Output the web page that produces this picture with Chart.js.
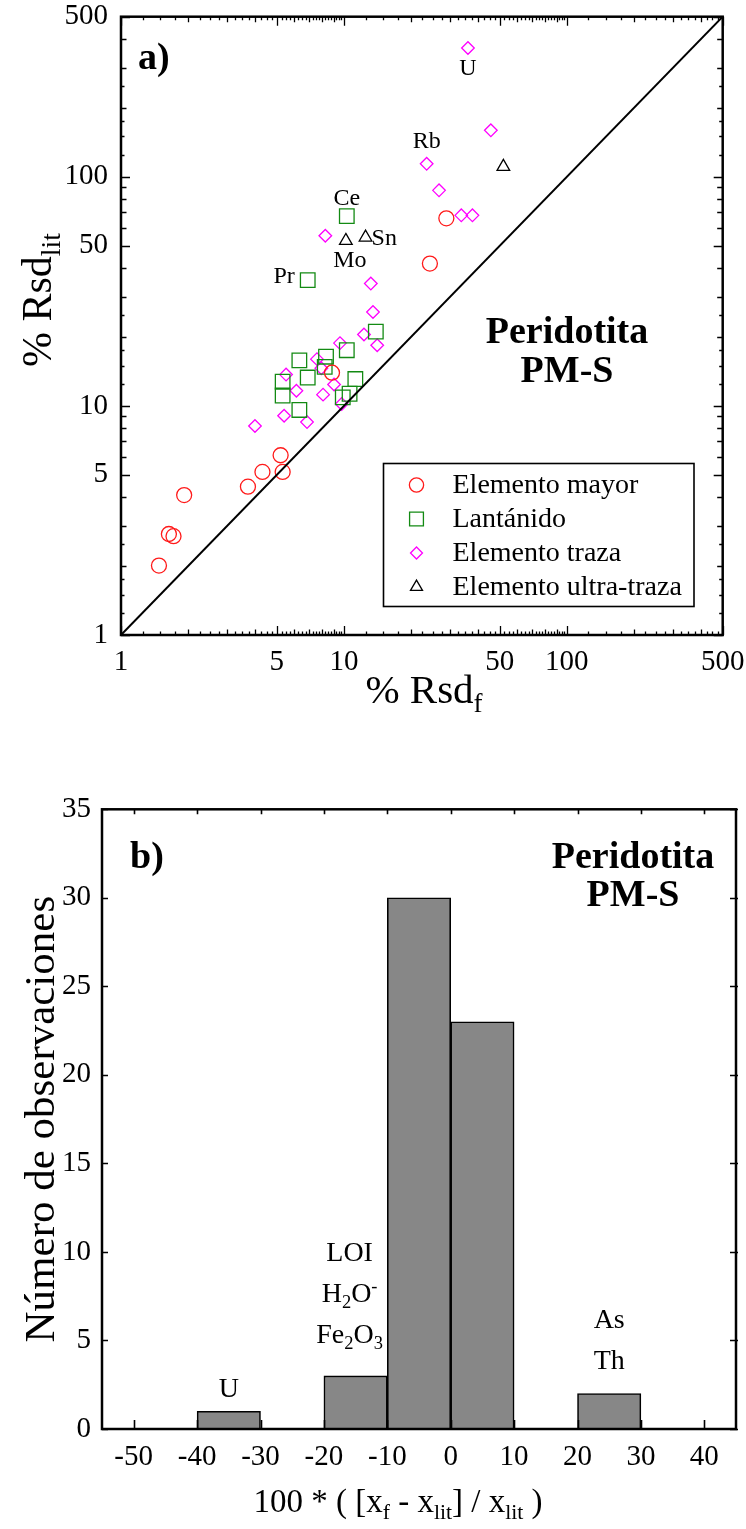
<!DOCTYPE html>
<html lang="es">
<head>
<meta charset="UTF-8">
<title>Peridotita PM-S</title>
<script src="https://cdn.jsdelivr.net/npm/chart.js"></script>
<style>
  html, body { margin: 0; padding: 0; background: #fff; }
  #wrap { position: relative; width: 746px; height: 1529px; }
  #wrap canvas { position: absolute; left: 0; }
</style>
</head>
<body>
<div id="wrap">
  <canvas id="rsdChart" width="746" height="760" style="top:0"></canvas>
  <canvas id="histChart" width="746" height="769" style="top:760px"></canvas>
</div>
<script>
// ---- a) % Rsd of the fit against % Rsd of the literature values ----
const mayorRsdF   = [1.48, 1.64, 1.72, 1.92, 3.71, 4.31, 5.31, 5.2, 8.84, 24.3, 28.8];
const mayorRsdLit = [2.01, 2.76, 2.70, 4.08, 4.44, 5.15, 5.15, 6.09, 13.96, 41.8, 65.9];

const lantRsdF   = [10.3, 6.88, 13.9, 10.3, 8.31, 6.31, 8.2, 6.88, 11.25, 5.31, 5.31, 10.6, 9.88, 6.31];
const lantRsdLit = [67.4, 35.4, 21.1, 17.5, 16.4, 15.8, 14.8, 13.3, 13.1, 12.75, 11.1, 11.3, 10.9, 9.6];

const trazaRsdF   = [8.25, 13.2, 13.5, 36.0, 45.6, 23.5, 26.7, 33.6, 37.7, 12.3, 14.1, 9.6, 7.57, 7.92, 5.5, 9.03, 6.12, 8.06, 9.77, 5.39, 6.83, 3.99];
const trazaRsdLit = [55.3, 34.2, 25.7, 365, 159.6, 114, 87.3, 67.9, 67.9, 20.5, 18.4, 18.8, 16.0, 14.6, 13.7, 12.4, 11.65, 11.2, 10.2, 9.06, 8.5, 8.17];

const ultraRsdF   = [10.2, 12.5, 51.9];
const ultraRsdLit = [52.6, 54.4, 110.7];

// named elements
const elemNames  = ['Ce', 'Pr', 'Mo', 'Sn', 'Rb', 'U'];
const elemRsdF   = [10.3, 6.88, 10.2, 12.5, 23.5, 36.0];
const elemRsdLit = [67.4, 35.4, 52.6, 54.4, 114, 365];

const rsdTicks = [1, 5, 10, 50, 100, 500];
const oneToOne = [1, 500];

// ---- b) histogram of relative differences ----
const binLo  = [-40, -20, -10, 0, 20];
const binHi  = [-30, -10, 0, 10, 30];
const counts = [1, 3, 30, 23, 2];
const diffTicks  = [-50, -40, -30, -20, -10, 0, 10, 20, 30, 40];
const countTicks = [0, 5, 10, 15, 20, 25, 30, 35];

// notes written over some bins: [bin index, lines (bottom line last)]
const binNotes = [
  [0, [[['U']]]],
  [1, [[['LOI']], [['H'], ['2', 'sub'], ['O'], ['-', 'sup']], [['Fe'], ['2', 'sub'], ['O'], ['3', 'sub']]]],
  [4, [[['As']], [['Th']]]]
];

const serif = '"Liberation Serif", "Times New Roman", serif';

function pairs(xs, ys) { return xs.map((v, i) => ({ x: v, y: ys[i] })); }

// text with sub/superscript parts: [[text, 'sub'|'sup'|undefined], ...]
function drawRich(ctx, parts, x, y, size, align, weight) {
  weight = weight || 'normal';
  const segs = parts.map(([t, m]) => {
    const s = m ? size * 0.66 : size;
    ctx.font = weight + ' ' + s + 'px ' + serif;
    return { t, m, s, w: ctx.measureText(t).width };
  });
  const total = segs.reduce((a, p) => a + p.w, 0);
  let cx = align === 'center' ? x - total / 2 : align === 'right' ? x - total : x;
  ctx.textAlign = 'left';
  segs.forEach(p => {
    ctx.font = weight + ' ' + p.s + 'px ' + serif;
    const dy = p.m === 'sub' ? size * 0.22 : p.m === 'sup' ? -size * 0.36 : 0;
    ctx.fillText(p.t, cx, y + dy);
    cx += p.w;
  });
}

function decadeOf(v) { return Math.pow(10, Math.floor(Math.log10(v) + 1e-9)); }

// minor tick values for the log axes
function logMinor(steps, max) {
  const out = [];
  [1, 10, 100].forEach(d => steps.forEach(s => { const v = d * s; if (v <= max + 1e-9) out.push(v); }));
  return out;
}
const xMinor = logMinor([1, 1.25, 1.5, 1.75, 2, 2.25, 2.5, 2.75, 3, 3.25, 3.5, 3.75, 4, 4.25, 4.5, 4.75, 5,
  5.25, 5.5, 5.75, 6, 6.25, 6.5, 6.75, 7, 7.25, 7.5, 7.75, 8, 8.25, 8.5, 8.75, 9, 9.25, 9.5, 9.75], 500);
const yMinor = logMinor([1, 1.25, 1.5, 1.75, 2, 2.5, 3, 4, 5, 6, 7, 8, 9], 500);

function logTickLen(v) {
  if (rsdTicks.some(t => Math.abs(t - v) < 1e-9)) return 9;
  const r = v / decadeOf(v);
  return Math.abs(r - Math.round(r)) < 1e-9 ? 5.5 : 3.5;
}

// keep the plot frame where the layout padding puts it, whatever the label sizes
function fixedBox(size) {
  return s => {
    if (s.isHorizontal()) { s.height = size; s.paddingLeft = 0; s.paddingRight = 0; }
    else { s.width = size; s.paddingTop = 0; s.paddingBottom = 0; }
  };
}

const seriesStyle = [
  { label: 'Elemento mayor', color: '#ff1a1a', pointStyle: 'circle', radius: 7.5 },
  { label: 'Lantánido', color: '#138a13', pointStyle: 'rect', radius: 10.3 },
  { label: 'Elemento traza', color: '#ff00ff', pointStyle: 'rectRot', radius: 6.3 },
  { label: 'Elemento ultra-traza', color: '#000000', pointStyle: 'triangle', radius: 7.3 }
];
const seriesData = [
  pairs(mayorRsdF, mayorRsdLit),
  pairs(lantRsdF, lantRsdLit),
  pairs(trazaRsdF, trazaRsdLit),
  pairs(ultraRsdF, ultraRsdLit)
];

const labelPlace = {
  Ce: { dx: 0, dy: -11, align: 'center' },
  Pr: { dx: -13, dy: 3, align: 'right' },
  Mo: { dx: 4, dy: 26, align: 'center' },
  Sn: { dx: 6, dy: 8, align: 'left' },
  Rb: { dx: 0, dy: -16, align: 'center' },
  U:  { dx: 0, dy: 27, align: 'center' }
};

const tickFont = { family: serif, size: 29 };

const rsdDecor = {
  id: 'rsdDecor',
  afterDraw(chart) {
    const { ctx, chartArea: a } = chart;
    const xs = chart.scales.x, ys = chart.scales.y;
    ctx.save();
    ctx.strokeStyle = '#000';
    ctx.lineWidth = 1.3;
    ctx.beginPath();
    xMinor.forEach(v => {
      const px = Math.round(xs.getPixelForValue(v)) + 0.5, len = logTickLen(v);
      ctx.moveTo(px, a.bottom); ctx.lineTo(px, a.bottom - len);
      ctx.moveTo(px, a.top); ctx.lineTo(px, a.top + len);
    });
    yMinor.forEach(v => {
      const py = Math.round(ys.getPixelForValue(v)) + 0.5, len = logTickLen(v);
      ctx.moveTo(a.left, py); ctx.lineTo(a.left + len, py);
      ctx.moveTo(a.right, py); ctx.lineTo(a.right - len, py);
    });
    ctx.stroke();
    ctx.lineWidth = 2.5;
    ctx.strokeRect(a.left, a.top, a.width, a.height);

    ctx.fillStyle = '#000';
    ctx.textBaseline = 'alphabetic';
    // panel tag and sample name
    drawRich(ctx, [['a)']], 138, 69, 38, 'left', 'bold');
    drawRich(ctx, [['Peridotita']], 567, 343, 38, 'center', 'bold');
    drawRich(ctx, [['PM-S']], 567, 382, 38, 'center', 'bold');

    // element names next to their points
    elemNames.forEach((n, i) => {
      const p = labelPlace[n];
      const px = xs.getPixelForValue(elemRsdF[i]) + p.dx;
      const py = ys.getPixelForValue(elemRsdLit[i]) + p.dy;
      drawRich(ctx, [[n]], px, py, 24, p.align);
    });

    // axis titles
    drawRich(ctx, [['% Rsd'], ['f', 'sub']], 424, 703, 41, 'center');
    ctx.save();
    ctx.translate(51, 300);
    ctx.rotate(-Math.PI / 2);
    drawRich(ctx, [['% Rsd'], ['lit', 'sub']], 0, 0, 42, 'center');
    ctx.restore();

    // legend box
    const lx = 383.5, ly = 463.5, lw = 310.5, lh = 143;
    ctx.lineWidth = 1.6;
    ctx.strokeRect(lx, ly, lw, lh);
    chart.data.datasets.filter(ds => ds.inLegend).forEach((ds, i) => {
      const ry = ly + 21.5 + i * 34;
      ctx.save();
      ctx.strokeStyle = ds.borderColor;
      ctx.fillStyle = 'rgba(0,0,0,0)';
      ctx.lineWidth = 1.3;
      Chart.helpers.drawPoint(ctx, { pointStyle: ds.pointStyle, radius: ds.pointRadius * 0.95, borderWidth: 1.3, rotation: 0 }, lx + 33, ry);
      ctx.restore();
      ctx.fillStyle = '#000';
      ctx.textBaseline = 'middle';
      drawRich(ctx, [[ds.label]], lx + 69, ry + 1, 28, 'left');
      ctx.textBaseline = 'alphabetic';
    });
    ctx.restore();
  }
};

const scatterSets = seriesStyle.map((s, i) => ({
  type: 'scatter',
  label: s.label,
  inLegend: true,
  data: seriesData[i],
  pointStyle: s.pointStyle,
  pointRadius: s.radius,
  pointHoverRadius: s.radius,
  borderColor: s.color,
  backgroundColor: 'rgba(0,0,0,0)',
  borderWidth: 1.3
}));

new Chart(document.getElementById('rsdChart'), {
  type: 'scatter',
  data: {
    datasets: [{
      type: 'line',
      label: '1:1',
      data: pairs(oneToOne, oneToOne),
      borderColor: '#000',
      borderWidth: 2,
      pointRadius: 0,
      fill: false
    }].concat(scatterSets)
  },
  options: {
    responsive: false,
    animation: false,
    events: [],
    layout: { padding: { left: 0, right: 23.3, top: 16.7, bottom: 0 } },
    plugins: { legend: { display: false }, tooltip: { enabled: false } },
    scales: {
      x: {
        type: 'logarithmic', min: 1, max: 500,
        grid: { display: false, drawTicks: false }, border: { display: false },
        afterBuildTicks: s => { s.ticks = rsdTicks.map(v => ({ value: v })); },
        afterFit: fixedBox(125),
        ticks: { autoSkip: false, maxRotation: 0, padding: 10, color: '#000',
                 font: tickFont, callback: v => String(v) }
      },
      y: {
        type: 'logarithmic', min: 1, max: 500,
        grid: { display: false, drawTicks: false }, border: { display: false },
        afterBuildTicks: s => { s.ticks = rsdTicks.map(v => ({ value: v })); },
        afterFit: fixedBox(121),
        ticks: { autoSkip: false, padding: 13, color: '#000',
                 font: tickFont, callback: v => String(v) }
      }
    }
  },
  plugins: [rsdDecor]
});

// ---- b) ----
const histDecor = {
  id: 'histDecor',
  afterDraw(chart) {
    const { ctx, chartArea: a } = chart;
    const xs = chart.scales.x, ys = chart.scales.y;
    ctx.save();
    ctx.strokeStyle = '#000';
    ctx.lineWidth = 1.6;
    ctx.beginPath();
    diffTicks.forEach(v => {
      const px = Math.round(xs.getPixelForValue(v)) + 0.5;
      ctx.moveTo(px, a.bottom); ctx.lineTo(px, a.bottom - 9);
      ctx.moveTo(px, a.top); ctx.lineTo(px, a.top + 5);
    });
    countTicks.forEach(v => {
      const py = Math.round(ys.getPixelForValue(v)) + 0.5;
      ctx.moveTo(a.left, py); ctx.lineTo(a.left + 6, py);
      ctx.moveTo(a.right + 2, py); ctx.lineTo(a.right - 6, py);
    });
    ctx.stroke();
    ctx.lineWidth = 2.5;
    ctx.strokeRect(a.left, a.top, a.width, a.height);

    ctx.fillStyle = '#000';
    ctx.textBaseline = 'alphabetic';
    drawRich(ctx, [['b)']], 130, 868 - 760, 38, 'left', 'bold');
    drawRich(ctx, [['Peridotita']], 633, 868 - 760, 38, 'center', 'bold');
    drawRich(ctx, [['PM-S']], 633, 906 - 760, 38, 'center', 'bold');

    // notes over bins, stacked upwards from the bar top
    const noteGap = { 0: 14, 1: 33, 4: 25 };
    binNotes.forEach(([bi, lines]) => {
      const cx = xs.getPixelForValue((binLo[bi] + binHi[bi]) / 2) + (bi === 1 ? -6 : 0);
      let by = ys.getPixelForValue(counts[bi]) - noteGap[bi];
      for (let k = lines.length - 1; k >= 0; k--) {
        drawRich(ctx, lines[k], cx, by, 28, 'center');
        by -= 41;
      }
    });

    drawRich(ctx, [['100 * ( [x'], ['f', 'sub'], [' - x'], ['lit', 'sub'], ['] / x'], ['lit', 'sub'], [' )']],
      398, 1512 - 760, 33, 'center');
    ctx.save();
    ctx.translate(54, (a.top + a.bottom) / 2);
    ctx.rotate(-Math.PI / 2);
    drawRich(ctx, [['Número de observaciones']], 0, 0, 43, 'center');
    ctx.restore();
    ctx.restore();
  }
};

new Chart(document.getElementById('histChart'), {
  type: 'bar',
  data: {
    datasets: [{
      label: 'Número de observaciones',
      data: counts.map((c, i) => ({ x: (binLo[i] + binHi[i]) / 2, y: c })),
      backgroundColor: '#878787',
      borderColor: '#000',
      borderWidth: 1.6,
      borderSkipped: 'bottom',
      barPercentage: 1,
      categoryPercentage: 1
    }]
  },
  options: {
    responsive: false,
    animation: false,
    events: [],
    layout: { padding: { left: 0, right: 10, top: 49.3, bottom: 0 } },
    plugins: { legend: { display: false }, tooltip: { enabled: false } },
    scales: {
      x: {
        type: 'linear', min: -55, max: 45, offset: false,
        grid: { display: false, drawTicks: false }, border: { display: false },
        afterBuildTicks: s => { s.ticks = diffTicks.map(v => ({ value: v })); },
        afterFit: fixedBox(100),
        ticks: { autoSkip: false, maxRotation: 0, padding: 11, color: '#000',
                 font: tickFont, callback: v => String(v) }
      },
      y: {
        min: 0, max: 35,
        grid: { display: false, drawTicks: false }, border: { display: false },
        afterBuildTicks: s => { s.ticks = countTicks.map(v => ({ value: v })); },
        afterFit: fixedBox(102),
        ticks: { autoSkip: false, padding: 11, color: '#000',
                 font: tickFont, callback: v => String(v) }
      }
    }
  },
  plugins: [histDecor]
});
</script>
</body>
</html>
